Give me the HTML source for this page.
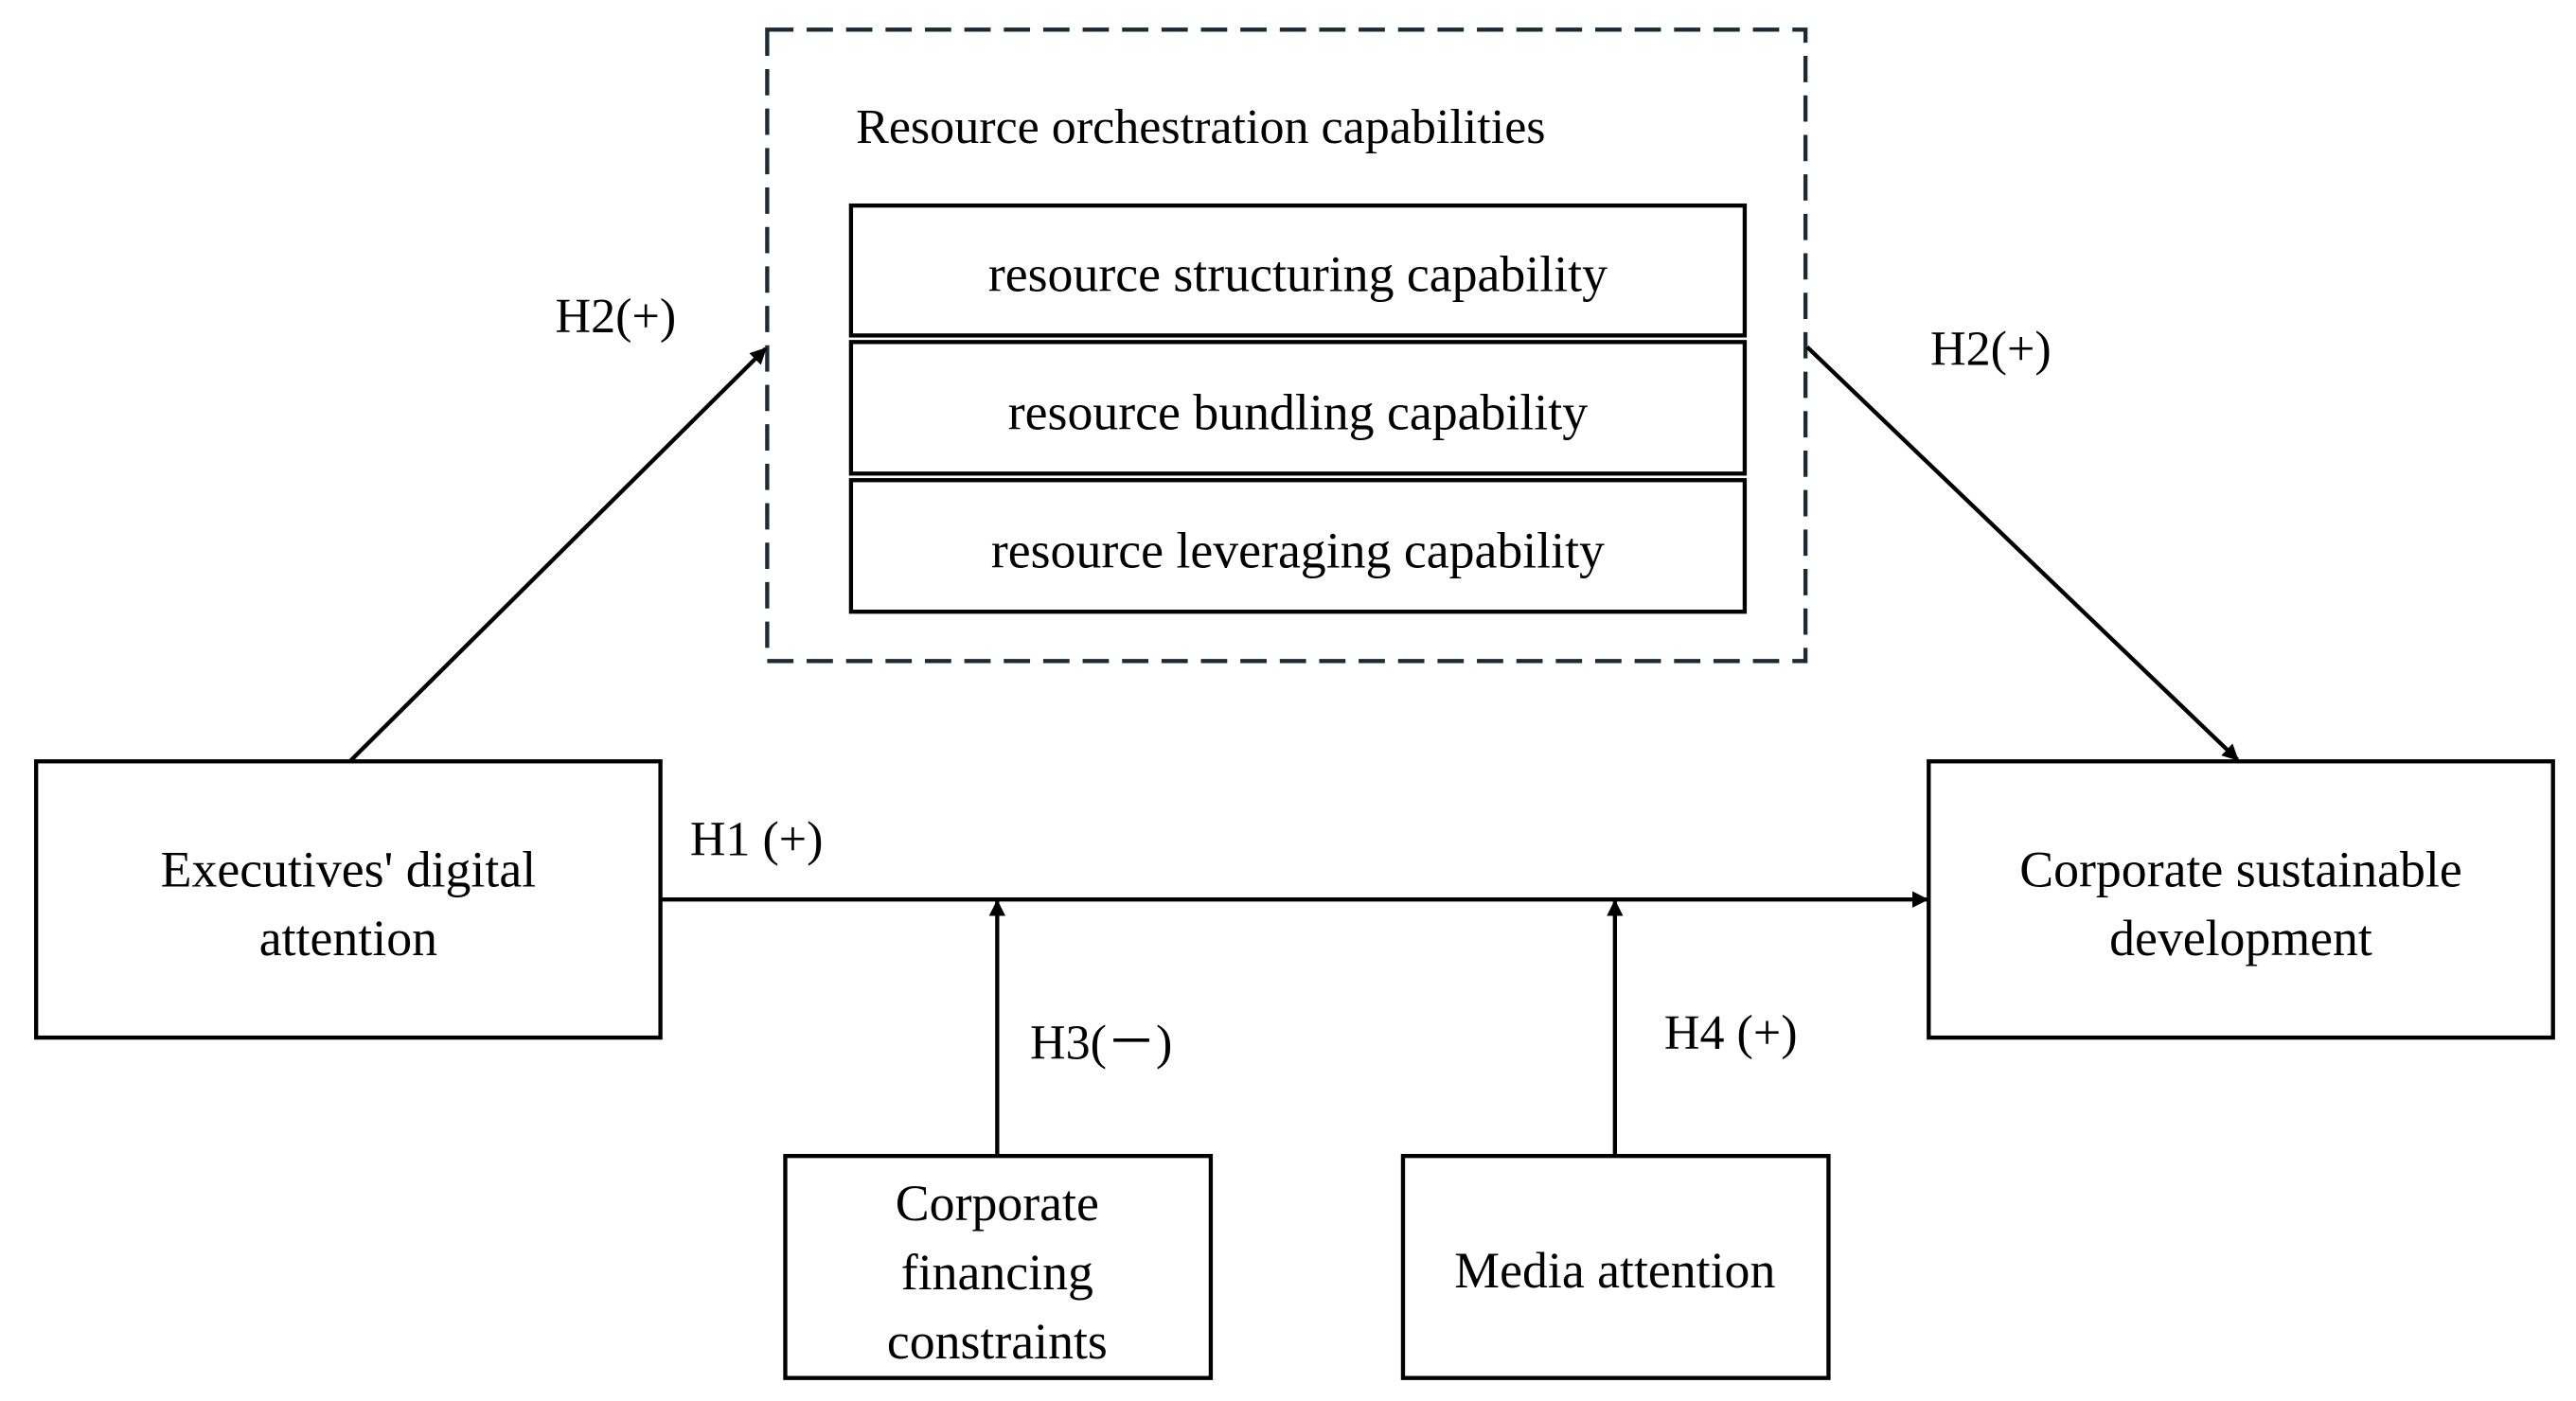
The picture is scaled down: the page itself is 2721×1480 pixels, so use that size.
<!DOCTYPE html>
<html><head><meta charset="utf-8"><style>html,body{margin:0;padding:0;background:#fff}svg{display:block}</style></head>
<body>
<svg width="2721" height="1480" viewBox="0 0 1568 852" preserveAspectRatio="none" xmlns="http://www.w3.org/2000/svg">
<defs><marker id="a" markerWidth="10" markerHeight="10" refX="9" refY="5" orient="auto" markerUnits="userSpaceOnUse"><path d="M0,0 L10,5 L0,10 z" fill="#000"/></marker></defs>
<g fill="none" stroke="#000" stroke-width="2.5">
<rect x="467" y="18" width="632" height="384" stroke="#1c2a33" stroke-dasharray="16,8"/>
<rect x="518" y="125" width="544" height="79"/>
<rect x="518" y="208" width="544" height="80"/>
<rect x="518" y="292" width="544" height="80"/>
<rect x="22" y="463" width="380" height="168"/>
<rect x="1174" y="463" width="380" height="168"/>
<rect x="478" y="703" width="259" height="135"/>
<rect x="854" y="703" width="259" height="135"/>
<line x1="402" y1="547" x2="1173" y2="547" marker-end="url(#a)"/>
<line x1="607" y1="703" x2="607" y2="548" marker-end="url(#a)"/>
<line x1="983" y1="703" x2="983" y2="548" marker-end="url(#a)"/>
<line x1="213" y1="463" x2="466" y2="212" marker-end="url(#a)"/>
<line x1="1100" y1="211" x2="1362" y2="462" marker-end="url(#a)"/>
</g>
<g font-family="Liberation Serif, serif" font-size="31" fill="#000">
<text x="521" y="87" font-size="30">Resource orchestration capabilities</text>
<g text-anchor="middle">
<text x="790" y="177">resource structuring capability</text>
<text x="790" y="261">resource bundling capability</text>
<text x="790" y="345">resource leveraging capability</text>
<text x="212" y="539">Executives' digital</text>
<text x="212" y="581">attention</text>
<text x="1364" y="539">Corporate sustainable</text>
<text x="1364" y="581">development</text>
<text x="607" y="742">Corporate</text>
<text x="607" y="784">financing</text>
<text x="607" y="826">constraints</text>
<text x="983" y="783">Media attention</text>
</g>
<g font-size="30">
<text x="338" y="202">H2(+)</text>
<text x="1175" y="222">H2(+)</text>
<text x="420" y="520">H1 (+)</text>
<text x="627" y="644">H3(－)</text>
<text x="1013" y="638">H4 (+)</text>
</g>
</g>
</svg>
</body></html>
